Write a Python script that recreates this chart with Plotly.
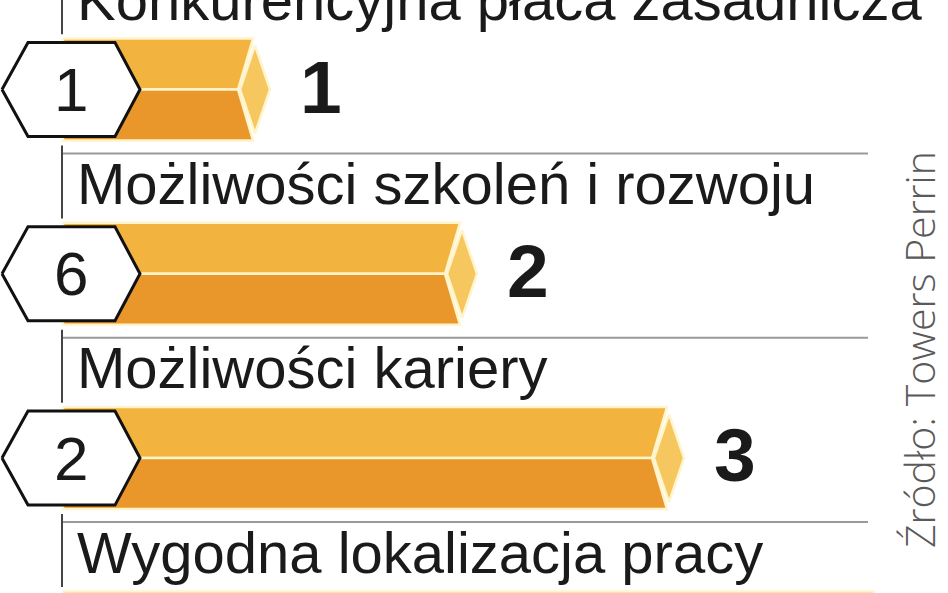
import plotly.graph_objects as go

# ---------------- data ----------------
categories = [
    "Konkurencyjna płaca zasadnicza",
    "Możliwości szkoleń i rozwoju",
    "Możliwości kariery",
    "Wygodna lokalizacja pracy",
]
values = [1.0, 2.0, 3.0, 4.0]          # bar lengths (current rank scale)
ranks = ["1", "2", "3", "4"]           # number to the right of each bar
previous = ["1", "6", "2", ""]         # number in the hexagon (4th is cut off)
source = "Źródło: Towers Perrin"

# ---------------- geometry helpers (pixel -> data units) ----------------
W, H = 948, 593
X0PX, PXX = 63.0, 207.0     # x=0 at 63px, 1 unit = 207px
Y0PX, PXY = 89.5, 184.3     # row 0 centre at 89.5px, 1 row = 184.3px


def dx(px):
    return px / PXX


def dy(px):
    return px / PXY


def ypaper(ydata):
    return 1 - (Y0PX + PXY * ydata) / H


half = dy(51)
TOP_C, BOT_C, CAP_C, LINE_C = "#F2B43F", "#E9972A", "#F5C75E", "#FFF4CC"
FONT = "Liberation Sans, Arial, sans-serif"

fig = go.Figure()

tx, ty, bx, by, cx, cy, hx, hy = [], [], [], [], [], [], [], []
sx, sy, vx, vy = [], [], [], []
annotations = []

for i, (cat, v, r, p) in enumerate(zip(categories, values, ranks, previous)):
    c = i
    e = v
    # top half
    tx += [0, e - dx(17), e - dx(32), 0, 0, None]
    ty += [c - half, c - half, c, c, c - half, None]
    # bottom half
    bx += [0, e - dx(32), e - dx(17), 0, 0, None]
    by += [c, c, c + half, c + half, c, None]
    # end cap
    cx += [e - dx(15), e, e - dx(15), e - dx(30), e - dx(15), None]
    cy += [c - dy(44), c, c + dy(44), c, c - dy(44), None]
    # hexagon
    hx += [dx(2 - X0PX), dx(28 - X0PX), dx(115 - X0PX), dx(140 - X0PX),
           dx(115 - X0PX), dx(28 - X0PX), dx(2 - X0PX), None]
    hy += [c, c - dy(47), c - dy(47), c, c + dy(47), c + dy(47), c, None]
    # separator line below the bar
    sep_below = c + dy(64)
    sx += [0, dx(868 - X0PX), None]
    sy += [sep_below, sep_below, None]
    # vertical tick next to the label above the bar
    sep_above = c - 1 + dy(64)
    vx += [dx(-1), dx(-1), None]
    vy += [sep_above - dy(8), sep_above + dy(65), None]

    annotations.append(dict(
        x=dx(12), y=ypaper(sep_above + dy(30)), xref="x", yref="paper", text=cat,
        showarrow=False, xanchor="left", yanchor="middle",
        font=dict(family=FONT, size=58, color="#1a1a1a")))
    annotations.append(dict(
        x=e + dx(28), y=c - dy(3), xref="x", yref="y", text=f"<b>{r}</b>",
        showarrow=False, xanchor="left", yanchor="middle",
        font=dict(family=FONT, size=75, color="#1a1a1a")))
    if p:
        annotations.append(dict(
            x=dx(71 - X0PX), y=c, xref="x", yref="y", text=p,
            showarrow=False, xanchor="center", yanchor="middle",
            font=dict(family=FONT, size=62, color="#1a1a1a")))

fig.add_trace(go.Scatter(x=sx, y=sy, mode="lines", line=dict(color="#9a9a9a", width=2),
                         hoverinfo="skip", showlegend=False))
fig.add_trace(go.Scatter(x=vx, y=vy, mode="lines", line=dict(color="#444444", width=2),
                         hoverinfo="skip", showlegend=False))
fig.add_trace(go.Scatter(x=tx, y=ty, mode="lines", fill="toself", fillcolor=TOP_C,
                         line=dict(color=LINE_C, width=2.5), hoverinfo="skip", showlegend=False))
fig.add_trace(go.Scatter(x=bx, y=by, mode="lines", fill="toself", fillcolor=BOT_C,
                         line=dict(color=LINE_C, width=2.5), hoverinfo="skip", showlegend=False))
fig.add_trace(go.Scatter(x=cx, y=cy, mode="lines", fill="toself", fillcolor=CAP_C,
                         line=dict(color=LINE_C, width=2.5), hoverinfo="skip", showlegend=False))
fig.add_trace(go.Scatter(x=hx, y=hy, mode="lines", fill="toself", fillcolor="white",
                         line=dict(color="#111111", width=3), hoverinfo="skip", showlegend=False))

annotations.append(dict(
    x=919 / W, y=1 - 350 / H, xref="paper", yref="paper", text=source,
    showarrow=False, textangle=-90, xanchor="center", yanchor="middle",
    font=dict(family="Open Sans, DejaVu Sans, sans-serif", size=41, color="#5a5a5a",
              weight=300)))

fig.update_layout(
    width=W, height=H,
    margin=dict(l=0, r=0, t=0, b=0),
    paper_bgcolor="white", plot_bgcolor="white",
    xaxis=dict(range=[-X0PX / PXX, (W - X0PX) / PXX], visible=False, fixedrange=True),
    yaxis=dict(range=[(H - Y0PX) / PXY, -Y0PX / PXY], visible=False, fixedrange=True),
    annotations=annotations,
    showlegend=False,
)

fig.write_html("out.html", config={"displayModeBar": False},
               post_script="document.body.style.margin='0';document.body.style.overflow='hidden';")
